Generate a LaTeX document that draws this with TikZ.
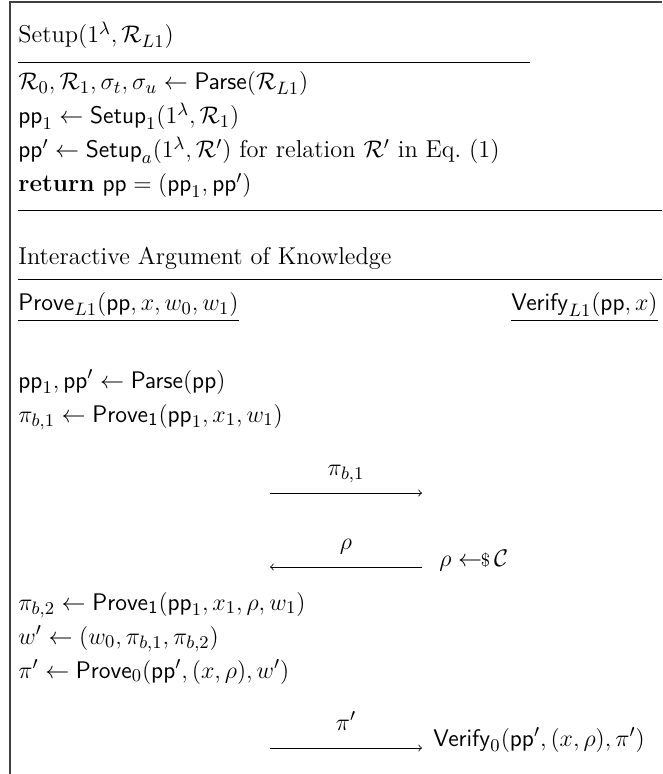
\documentclass[tikz,border=0pt]{standalone}
\usepackage{amsmath}
\usepackage{amssymb}
\usepackage{tikz}
\usetikzlibrary{positioning}

\newcommand{\smp}{\leftarrow\!\!{\scriptstyle\$}\,}

\begin{document}
\begin{tikzpicture}[
  x=0.5pt, y=-0.5pt,
  every node/.style={font=\fontsize{12.2pt}{14.6pt}\selectfont},
  row/.style={anchor=base west, inner sep=0pt},
  rowr/.style={anchor=base east, inner sep=0pt},
  rule/.style={line width=0.4pt},
  frame/.style={line width=0.8pt, black!75},
  msg/.style={->, line width=0.4pt},
  lbl/.style={anchor=base, inner sep=0pt, yshift=9pt}
]
\useasboundingbox (0,0) rectangle (662,774);
\draw[frame] (662,2) -- (10,2) -- (10,774);

% setup block
\node[row] (stitle) at (18,43) {Setup$(1^\lambda,\mathcal{R}_{L1})$};
\node[below=23.5pt of stitle.base west, row] (sparse) {$\mathcal{R}_0,\mathcal{R}_1,\sigma_t,\sigma_u \leftarrow \mathsf{Parse}(\mathcal{R}_{L1})$};
\node[below=17pt of sparse.base west, row] (spp1) {$\mathsf{pp}_1 \leftarrow \mathsf{Setup}_1(1^\lambda,\mathcal{R}_1)$};
\node[below=17pt of spp1.base west, row] (sppa) {$\mathsf{pp}' \leftarrow \mathsf{Setup}_a(1^\lambda,\mathcal{R}')$ for relation $\mathcal{R}'$ in Eq.~(1)};
\node[below=17pt of sppa.base west, row] (sret) {\textbf{return} $\mathsf{pp}=(\mathsf{pp}_1,\mathsf{pp}')$};
\coordinate (su1) at (18,62);   \coordinate (su2) at (530,62);
\coordinate (sb1) at (18,210);  \coordinate (sb2) at (662,210);
\draw[rule] (su1) -- (su2);
\draw[rule] (sb1) -- (sb2);

% argument of knowledge
\node[row] (atitle) at (18,265) {Interactive Argument of Knowledge};
\coordinate (ab1) at (18,279);  \coordinate (ab2) at (662,279);
\draw[rule] (ab1) -- (ab2);
\node[row] (prover) at (18,311) {$\mathsf{Prove}_{L1}(\mathsf{pp},x,w_0,w_1)$};
\node[rowr] (verifier) at (658,311) {$\mathsf{Verify}_{L1}(\mathsf{pp},x)$};
\draw[rule] ([yshift=-4.8pt]prover.base west) -- ([yshift=-4.8pt]prover.base east);
\draw[rule] ([yshift=-4.8pt]verifier.base west) -- ([yshift=-4.8pt]verifier.base east);

% prover steps
\node[below=38.5pt of prover.base west, row] (pparse) {$\mathsf{pp}_1,\mathsf{pp}' \leftarrow \mathsf{Parse}(\mathsf{pp})$};
\node[below=17pt of pparse.base west, row] (pfirst) {$\pi_{b,1} \leftarrow \mathsf{Prove_1}(\mathsf{pp}_1,x_1,w_1)$};

% messages 1 and 2
\coordinate (m1a) at (270,493); \coordinate (m1b) at (422,493);
\draw[msg] (m1a) -- node[lbl] (m1l) {$\pi_{b,1}$} (m1b);
\coordinate (m2a) at (422,567); \coordinate (m2b) at (270,567);
\draw[msg] (m2a) -- node[lbl] (m2l) {$\rho$} (m2b);
\node[row] (vchal) at (439,566) {$\rho \smp \mathcal{C}$};

% prover steps after challenge
\node[below=94pt of pfirst.base west, row] (psecond) {$\pi_{b,2} \leftarrow \mathsf{Prove_1}(\mathsf{pp}_1,x_1,\rho,w_1)$};
\node[below=17pt of psecond.base west, row] (pwit) {$w' \leftarrow (w_0,\pi_{b,1},\pi_{b,2})$};
\node[below=17pt of pwit.base west, row] (pfinal) {$\pi' \leftarrow \mathsf{Prove}_0(\mathsf{pp}',(x,\rho),w')$};

% last message
\coordinate (m3a) at (270,748); \coordinate (m3b) at (422,748);
\draw[msg] (m3a) -- node[lbl] (m3l) {$\pi'$} (m3b);
\node[row] (vfinal) at (433,746) {$\mathsf{Verify}_0(\mathsf{pp}',(x,\rho),\pi')$};
\end{tikzpicture}
\end{document}
